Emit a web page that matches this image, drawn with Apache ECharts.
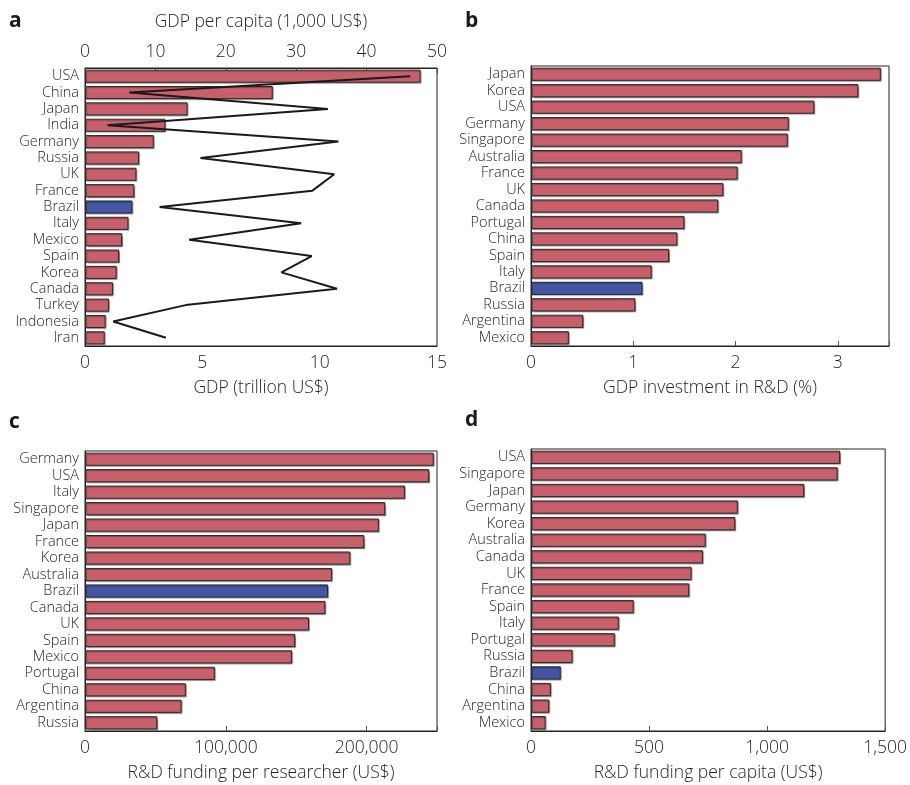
<!DOCTYPE html>
<html>
<head>
<meta charset="utf-8">
<script src="https://cdn.jsdelivr.net/npm/echarts@6/dist/echarts.min.js"></script>
<style>html,body{margin:0;padding:0;background:#fff;}#c{width:910px;height:785px;}</style>
</head>
<body>
<div id="c"></div>
<script>
// Panel a
const catsA = ['USA','China','Japan','India','Germany','Russia','UK','France','Brazil','Italy','Mexico','Spain','Korea','Canada','Turkey','Indonesia','Iran'];
const gdpA = [14.3, 8.0, 4.37, 3.42, 2.93, 2.3, 2.19, 2.1, 2.02, 1.85, 1.58, 1.45, 1.35, 1.19, 1.02, 0.88, 0.84];
const gdpPerCapitaA = [46.2, 6.3, 34.5, 3.2, 36.0, 16.4, 35.4, 32.3, 10.6, 30.7, 14.8, 32.2, 27.9, 35.8, 14.3, 4.0, 11.5];
// Panel b
const catsB = ['Japan','Korea','USA','Germany','Singapore','Australia','France','UK','Canada','Portugal','China','Spain','Italy','Brazil','Russia','Argentina','Mexico'];
const valsB = [3.42, 3.20, 2.77, 2.52, 2.51, 2.06, 2.02, 1.88, 1.83, 1.50, 1.43, 1.35, 1.18, 1.09, 1.02, 0.51, 0.37];
// Panel c
const catsC = ['Germany','USA','Italy','Singapore','Japan','France','Korea','Australia','Brazil','Canada','UK','Spain','Mexico','Portugal','China','Argentina','Russia'];
const valsC = [247700, 244400, 227200, 213200, 208700, 198300, 188400, 175400, 172600, 170700, 159100, 149200, 147000, 92200, 71600, 68600, 51300];
// Panel d
const catsD = ['USA','Singapore','Japan','Germany','Korea','Australia','Canada','UK','France','Spain','Italy','Portugal','Russia','Brazil','China','Argentina','Mexico'];
const valsD = [1309, 1299, 1157, 876, 865, 740, 728, 680, 670, 435, 372, 355, 176, 126, 84, 77, 62];

const RED = '#c7606a', BLUE = '#4455a6';
const FONT = '"Open Sans", "Noto Sans", sans-serif';
const TXT = '#1f1f1f';
const FS = 17.5, FSC = 14.5;

function barData(cats, vals) {
  return vals.map((v, i) => ({
    value: v,
    itemStyle: { color: cats[i] === 'Brazil' ? BLUE : RED }
  }));
}
function fmtThousands(v) {
  return String(Math.round(v)).replace(/\B(?=(\d{3})+(?!\d))/g, ',');
}

const grids = [
  { left: 85, top: 68, width: 352, height: 278 },
  { left: 531, top: 66, width: 358, height: 280 },
  { left: 85, top: 451, width: 352, height: 280 },
  { left: 531, top: 449, width: 356, height: 282 }
].map(g => Object.assign(g, { show: true, borderColor: '#222', borderWidth: 1, backgroundColor: 'transparent' }));

function xAxisBottom(gi, max, interval, name, fmt, showTicks) {
  return {
    type: 'value', gridIndex: gi, position: 'bottom', min: 0, max: max, interval: interval,
    name: name, nameLocation: 'middle', nameGap: 33,
    nameTextStyle: { fontFamily: FONT, fontSize: FS, fontWeight: 300, color: TXT },
    axisLine: { show: true, lineStyle: { color: '#222', width: 1 } },
    axisTick: { show: showTicks, inside: true, length: 5, lineStyle: { color: '#555' } },
    splitLine: { show: false },
    axisLabel: {
      fontFamily: FONT, fontSize: FS, fontWeight: 300, color: TXT, margin: 8,
      formatter: function (v) {
        if (Math.abs(v / interval - Math.round(v / interval)) > 1e-9) return '';
        return fmt ? fmt(v) : String(v);
      }
    }
  };
}
function yAxisCat(gi, cats) {
  return {
    type: 'category', gridIndex: gi, data: cats, inverse: true,
    axisLine: { show: true, lineStyle: { color: '#222', width: 1 } },
    axisTick: { show: false },
    axisLabel: { fontFamily: FONT, fontSize: FSC, fontWeight: 300, color: TXT, margin: 6, interval: 0 }
  };
}
function barSeries(xi, yi, cats, vals) {
  return {
    type: 'bar', xAxisIndex: xi, yAxisIndex: yi, data: barData(cats, vals),
    barCategoryGap: '20%', silent: true,
    itemStyle: { borderColor: '#2a2a2a', borderWidth: 1, shadowColor: 'rgba(0,0,0,0.35)', shadowOffsetX: 1, shadowOffsetY: 1, shadowBlur: 1 }
  };
}

const option = {
  animation: false,
  backgroundColor: '#fff',
  grid: grids,
  xAxis: [
    xAxisBottom(0, 15, 5, 'GDP (trillion US$)', null, false),
    {
      type: 'value', gridIndex: 0, position: 'top', min: 0, max: 50, interval: 10,
      name: 'GDP per capita (1,000 US$)', nameLocation: 'middle', nameGap: 37,
      nameTextStyle: { fontFamily: FONT, fontSize: FS, fontWeight: 300, color: TXT },
      axisLine: { show: true, lineStyle: { color: '#222', width: 1 } },
      axisTick: { show: true, inside: true, length: 6, lineStyle: { color: '#444' } },
      splitLine: { show: false },
      axisLabel: { fontFamily: FONT, fontSize: FS, fontWeight: 300, color: TXT, margin: 7 }
    },
    xAxisBottom(1, 3.5, 1, 'GDP investment in R&D (%)', null, true),
    xAxisBottom(2, 250000, 100000, 'R&D funding per researcher (US$)', fmtThousands, true),
    xAxisBottom(3, 1500, 500, 'R&D funding per capita (US$)', fmtThousands, true)
  ],
  yAxis: [yAxisCat(0, catsA), yAxisCat(1, catsB), yAxisCat(2, catsC), yAxisCat(3, catsD)],
  series: [
    barSeries(0, 0, catsA, gdpA),
    {
      type: 'line', xAxisIndex: 1, yAxisIndex: 0, data: gdpPerCapitaA, silent: true,
      showSymbol: false, symbol: 'none', lineStyle: { color: '#1a1a1a', width: 2 }, z: 5
    },
    barSeries(2, 1, catsB, valsB),
    barSeries(3, 2, catsC, valsC),
    barSeries(4, 3, catsD, valsD)
  ],
  graphic: [
    { type: 'text', left: 9, top: 11, style: { text: 'a', fontFamily: FONT, fontSize: 21, fontWeight: 'bold', fill: '#1a1a1a' } },
    { type: 'text', left: 465, top: 11, style: { text: 'b', fontFamily: FONT, fontSize: 21, fontWeight: 'bold', fill: '#1a1a1a' } },
    { type: 'text', left: 9, top: 412, style: { text: 'c', fontFamily: FONT, fontSize: 21, fontWeight: 'bold', fill: '#1a1a1a' } },
    { type: 'text', left: 465, top: 410, style: { text: 'd', fontFamily: FONT, fontSize: 21, fontWeight: 'bold', fill: '#1a1a1a' } }
  ]
};

const chart = echarts.init(document.getElementById('c'), null, { renderer: 'canvas' });
chart.setOption(option);
</script>
</body>
</html>
